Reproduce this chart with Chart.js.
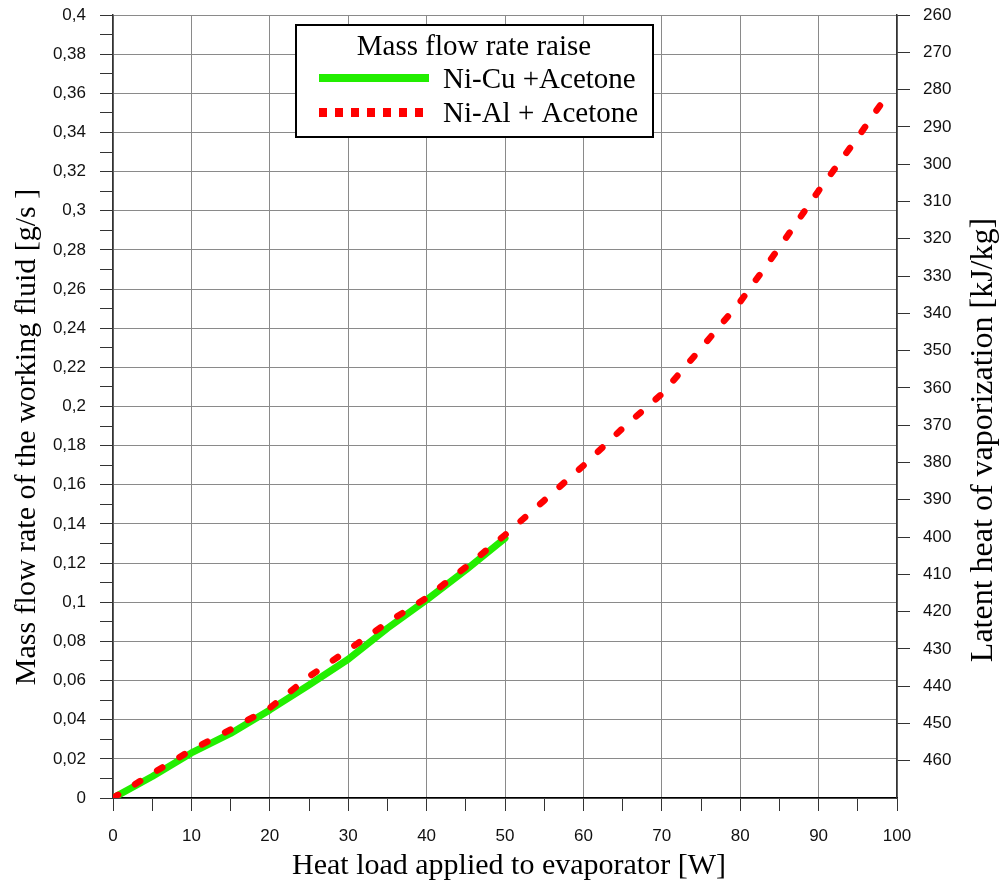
<!DOCTYPE html>
<html>
<head>
<meta charset="utf-8">
<script src="https://cdn.jsdelivr.net/npm/chart.js@4"></script>
<style>
  html, body { margin: 0; padding: 0; background: #fff; }
  #wrap { width: 999px; height: 886px; }
</style>
</head>
<body>
<div id="wrap"><canvas id="c" width="999" height="886"></canvas></div>
<script>
// ---- data ----
const heatLoadNiCu = [0, 5, 10, 15, 20, 25, 30, 35, 40, 45, 50];
const flowNiCu = [0, 0.011, 0.023, 0.033, 0.045, 0.0577, 0.0709, 0.0867, 0.1012, 0.1165, 0.1327];

const heatLoadNiAl = [0, 5, 10, 15, 20, 25, 30, 35, 40, 45, 50, 55, 60, 65, 70, 75, 80, 85, 90, 95, 99];
const flowNiAl = [0, 0.0125, 0.0245, 0.035, 0.046, 0.062, 0.0756, 0.0896, 0.1023, 0.118, 0.1344, 0.152, 0.1698, 0.1889, 0.2064, 0.2297, 0.2535, 0.2813, 0.3102, 0.3375, 0.3605];

const seriesLabels = ['Ni-Cu +Acetone', 'Ni-Al + Acetone'];
const legendTitle = 'Mass flow rate raise';

const xTickLabels = ['0', '10', '20', '30', '40', '50', '60', '70', '80', '90', '100'];
const yTickLabels = ['0', '0,02', '0,04', '0,06', '0,08', '0,1', '0,12', '0,14', '0,16', '0,18', '0,2',
                     '0,22', '0,24', '0,26', '0,28', '0,3', '0,32', '0,34', '0,36', '0,38', '0,4'];
const y2TickLabels = ['260', '270', '280', '290', '300', '310', '320', '330', '340', '350', '360',
                      '370', '380', '390', '400', '410', '420', '430', '440', '450', '460'];

const xTitle = 'Heat load applied to evaporator [W]';
const yTitle = 'Mass flow rate of the working fluid [g/s ]';
const y2Title = 'Latent heat of vaporization [kJ/kg]';

// ---- styles ----
const SANS = "'Liberation Sans', Arial, sans-serif";
const SERIF = "'Liberation Serif', 'Times New Roman', serif";
const GREEN = '#22ee00';
const RED = '#ff0000';
const GRID = '#8a8a8a';
const AXIS = '#333333';

const toPoints = (xs, ys) => xs.map((x, i) => ({ x: x, y: ys[i] }));

const decorPlugin = {
  id: 'decor',
  afterDraw(chart) {
    const ctx = chart.ctx;
    ctx.save();
    ctx.fillStyle = '#000';
    // axis titles
    ctx.font = '30px ' + SERIF;
    ctx.textAlign = 'center';
    ctx.textBaseline = 'middle';
    ctx.fillText(xTitle, 509, 866);
    ctx.save();
    ctx.translate(27, 437);
    ctx.rotate(-Math.PI / 2);
    ctx.fillText(yTitle, 0, 0);
    ctx.restore();
    ctx.font = '32px ' + SERIF;
    ctx.save();
    ctx.translate(984, 440);
    ctx.rotate(-Math.PI / 2);
    ctx.fillText(y2Title, 0, 0);
    ctx.restore();

    // legend box
    ctx.fillStyle = '#fff';
    ctx.fillRect(296, 25, 357, 112);
    ctx.lineWidth = 2;
    ctx.strokeStyle = '#000';
    ctx.strokeRect(296, 25, 357, 112);
    ctx.fillStyle = '#000';
    ctx.font = '29px ' + SERIF;
    ctx.textAlign = 'center';
    ctx.textBaseline = 'alphabetic';
    ctx.fillText(legendTitle, 474, 55);
    ctx.textAlign = 'left';
    ctx.fillText(seriesLabels[0], 443, 88);
    ctx.fillText(seriesLabels[1], 443, 122);
    // samples
    const ds = chart.data.datasets;
    ctx.strokeStyle = ds[0].borderColor;
    ctx.lineWidth = 8;
    ctx.lineCap = 'butt';
    ctx.beginPath();
    ctx.moveTo(319, 78);
    ctx.lineTo(429, 78);
    ctx.stroke();
    ctx.fillStyle = ds[1].borderColor;
    for (let i = 0; i < 7; i++) {
      ctx.fillRect(319 + i * 16, 108, 8, 9);
    }
    ctx.restore();
  }
};

new Chart(document.getElementById('c'), {
  type: 'line',
  data: {
    datasets: [
      {
        label: seriesLabels[0],
        data: toPoints(heatLoadNiCu, flowNiCu),
        borderColor: GREEN,
        backgroundColor: GREEN,
        borderWidth: 7,
        pointRadius: 0,
        tension: 0,
        borderCapStyle: 'round',
        borderJoinStyle: 'round',
        fill: false,
        order: 1
      },
      {
        label: seriesLabels[1],
        data: toPoints(heatLoadNiAl, flowNiAl),
        borderColor: RED,
        backgroundColor: RED,
        borderWidth: 6.5,
        borderDash: [6, 20],
        borderCapStyle: 'round',
        borderJoinStyle: 'round',
        pointRadius: 0,
        tension: 0,
        fill: false,
        order: 0
      }
    ]
  },
  options: {
    responsive: false,
    animation: false,
    devicePixelRatio: 1,
    layout: { padding: { top: 15, left: 0, right: 0, bottom: 0 } },
    plugins: {
      legend: { display: false },
      tooltip: { enabled: false },
      title: { display: false }
    },
    scales: {
      x: {
        type: 'linear',
        position: 'bottom',
        min: 0,
        max: 100,
        afterFit(scale) { scale.height = 88; scale.paddingLeft = 0; scale.paddingRight = 0; },
        ticks: {
          stepSize: 5,
          autoSkip: false,
          maxRotation: 0,
          padding: 15,
          color: '#111',
          font: { family: SANS, size: 17 },
          callback: (v) => {
            const r = Math.round(v);
            return r % 10 === 0 ? xTickLabels[r / 10] : '';
          }
        },
        grid: {
          color: (c) => (c.tick && Math.round(c.tick.value) % 10 === 0 ? GRID : 'rgba(0,0,0,0)'),
          tickColor: AXIS,
          tickLength: 13,
          lineWidth: 1
        },
        border: { color: '#000', width: 1.5 }
      },
      y: {
        type: 'linear',
        position: 'left',
        min: 0,
        max: 0.4,
        afterFit(scale) { scale.width = 113; scale.paddingTop = 0; scale.paddingBottom = 0; },
        ticks: {
          stepSize: 0.01,
          autoSkip: false,
          padding: 14,
          color: '#111',
          font: { family: SANS, size: 17 },
          callback: (v) => {
            const r = Math.round(v * 100);
            return r % 2 === 0 ? yTickLabels[r / 2] : '';
          }
        },
        grid: {
          color: (c) => (c.tick && Math.round(c.tick.value * 100) % 2 === 0 ? GRID : 'rgba(0,0,0,0)'),
          tickColor: AXIS,
          tickLength: 13,
          lineWidth: 1
        },
        border: { color: AXIS, width: 1.5 }
      },
      y2: {
        type: 'linear',
        position: 'right',
        min: 260,
        max: 470,
        reverse: true,
        display: true,
        afterFit(scale) { scale.width = 102; scale.paddingTop = 0; scale.paddingBottom = 0; },
        ticks: {
          stepSize: 10,
          autoSkip: false,
          padding: 13,
          color: '#111',
          font: { family: SANS, size: 17 },
          callback: (v) => {
            const lbl = y2TickLabels[Math.round((v - 260) / 10)];
            return lbl !== undefined ? lbl : '';
          }
        },
        grid: {
          drawOnChartArea: false,
          color: AXIS,
          tickColor: (c) => (c.tick && c.tick.value >= 470 ? 'rgba(0,0,0,0)' : AXIS),
          tickLength: 13
        },
        border: { color: AXIS, width: 1.5 }
      }
    }
  },
  plugins: [decorPlugin]
});
</script>
</body>
</html>
